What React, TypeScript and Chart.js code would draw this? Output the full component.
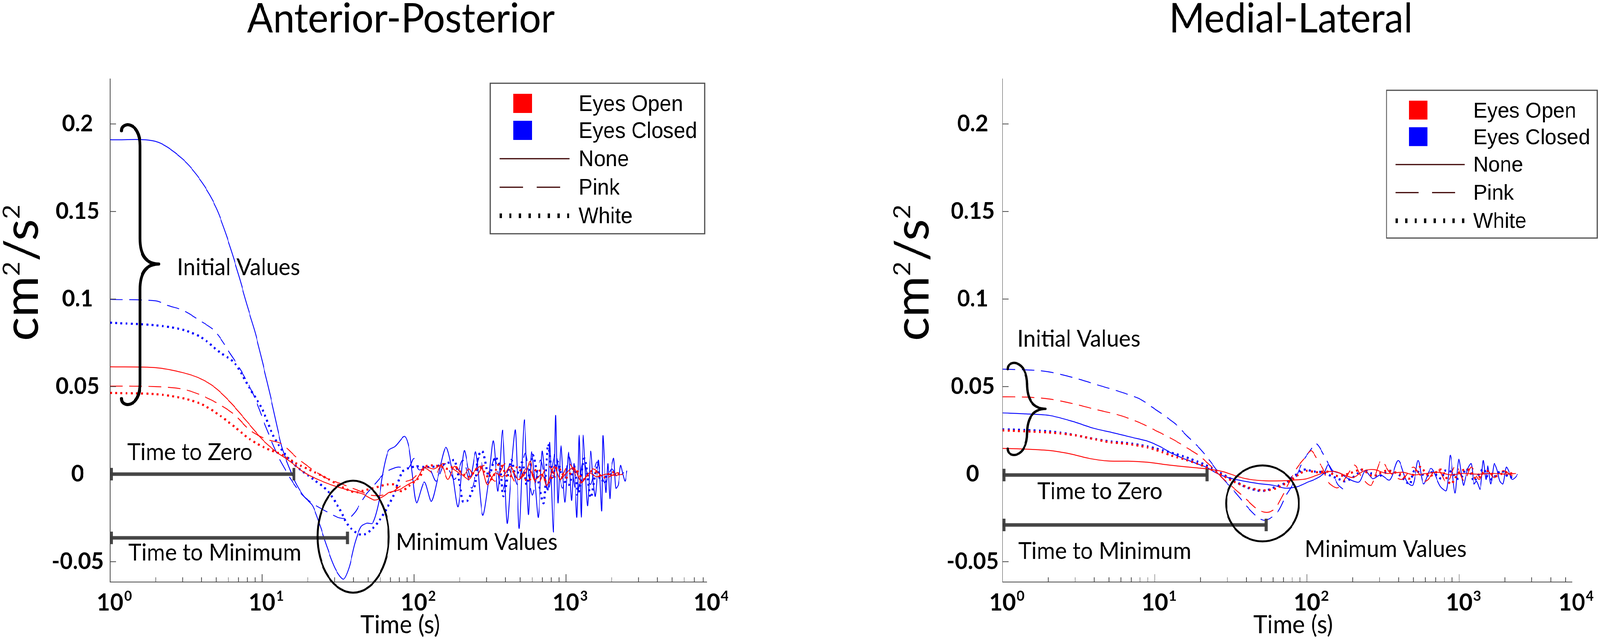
import React, { useEffect, useRef } from "react";
import Chart from "chart.js/auto";

type Pt = [number, number]; // [time (s), value (cm^2/s^2)]

// ---------- Anterior-Posterior ----------
const apEoNone: Pt[] = [
  [1, 0.0613], [2, 0.0608], [3, 0.058], [3.9, 0.0547], [4.9, 0.0495], [6.2, 0.041], [7.9, 0.0304],
  [10, 0.02], [12.3, 0.013], [15, 0.0078], [19, 0.0009], [24, -0.0035], [30.6, -0.007], [38.6, -0.0095],
  [46, -0.0113], [55, -0.0148], [62, -0.013], [68.7, -0.0104], [79.6, -0.009], [90.8, -0.006], [104, -0.003],
  [117, 0.004], [135, 0.003], [152, 0.005], [167, -0.003], [185, 0.0045], [206, 0], [230, -0.003], [252, 0.002],
  [277, 0.0045], [304, -0.006], [342, 0.0007], [383, -0.0015], [431, 0.0045], [483, -0.003], [543, 0.0007],
  [582, 0.0074], [624, -0.003], [697, 0], [748, -0.0067], [836, 0.0045], [917, -0.003], [1005, 0.0007],
  [1129, 0.0037], [1267, -0.0045], [1422, 0.0007], [1595, -0.0015], [1834, 0], [2112, -0.0007], [2370, 0],
];
const apEoPink: Pt[] = [
  [1, 0.0503], [2, 0.05], [3, 0.0486], [4, 0.045], [5.2, 0.04], [6.6, 0.0339], [8.3, 0.0252], [10.6, 0.02],
  [13.4, 0.0174], [16.9, 0.0095], [21.5, 0.0026], [27, -0.0026], [34.4, -0.006], [43.5, -0.0095], [52, -0.012],
  [62, -0.012], [74, -0.0095], [88, -0.0043], [97, -0.003], [108, 0.001], [117, 0.0037], [138, 0], [154, 0.006],
  [176, 0.0037], [195, 0.001], [210, -0.0015], [230, 0.003], [252, -0.002], [290, 0.005], [340, -0.004],
  [400, 0.006], [470, -0.005], [560, 0.004], [650, -0.006], [760, 0.005], [900, -0.004], [1050, 0.006],
  [1250, -0.005], [1500, 0.003], [1800, -0.002], [2200, 0.001],
];
const apEoWhite: Pt[] = [
  [1, 0.0464], [2, 0.0457], [3, 0.0434], [4, 0.04], [5.2, 0.0339], [6.6, 0.027], [8.3, 0.02], [10.6, 0.0148],
  [13.4, 0.0113], [16.9, 0.006], [21.5, 0.0017], [27, -0.0026], [34.4, -0.0078], [41, -0.0104], [46, -0.0095],
  [55, -0.0078], [65.8, -0.006], [74, -0.006], [82, -0.0097], [95, -0.006], [109, -0.0015], [120, 0.0045],
  [149, 0.0045], [167, 0.003], [185, 0.0045], [206, 0.0007], [230, -0.0015], [270, 0.004], [320, -0.003],
  [366, 0.006], [420, -0.002], [480, 0.004], [560, -0.004], [650, 0.003], [760, -0.005], [880, 0.004],
  [1000, -0.002], [1150, 0.003], [1300, -0.003], [1500, 0.002], [1750, -0.002], [2000, 0.001], [2300, 0],
];
const apEcNone: Pt[] = [
  [1, 0.191], [2, 0.19], [3, 0.18], [4, 0.167], [5, 0.152], [6, 0.133], [7, 0.114], [8, 0.096], [9, 0.081],
  [10, 0.065], [11.6, 0.041], [13.4, 0.0165], [15, 0.0043], [16.9, -0.006], [19, -0.013], [21.5, -0.018],
  [24, -0.029], [27, -0.0425], [30.6, -0.0547], [34.4, -0.06], [37.5, -0.053], [41, -0.039], [44.8, -0.03],
  [49, -0.028], [53.5, -0.028], [58.5, -0.0165], [62, -0.001], [67.8, 0.0134], [75.6, 0.016], [86.7, 0.0216],
  [92.7, 0.015], [97, 0.0015], [104, -0.0164], [117, -0.0045], [130, -0.0156], [144, -0.0015], [162, 0.0153],
  [178, 0.002], [195, -0.0186], [214, 0.0134], [235, -0.0015], [255, 0.0126], [283, -0.0234], [311, -0.002],
  [333, 0.019], [357, -0.0097], [383, 0.025], [410, -0.028], [438, 0.004], [465, 0.025], [493, -0.031],
  [532, 0.031], [566, -0.023], [593, 0.0126], [625, -0.004], [658, -0.0246], [697, 0.013], [730, -0.002],
  [764, -0.009], [782, 0.018], [827, -0.033], [856, 0.0335], [886, -0.0164], [928, 0.0164], [983, -0.016],
  [1040, 0.0126], [1089, -0.015], [1130, 0.006], [1181, -0.0246], [1222, 0.0223], [1260, -0.0246],
  [1296, 0.022], [1340, 0.002], [1389, -0.018], [1455, 0.013], [1510, -0.004], [1559, -0.0126], [1640, 0.008],
  [1718, -0.021], [1750, 0.022], [1834, -0.0104], [1890, 0.006], [1945, -0.014], [2000, 0.004], [2062, 0.009],
  [2130, -0.008], [2210, -0.006], [2290, 0.005], [2370, 0], [2450, -0.004], [2520, 0.002],
];
const apEcPink: Pt[] = [
  [1, 0.0998], [2, 0.099], [2.4, 0.0963], [3, 0.0937], [3.77, 0.0885], [4.9, 0.0816], [6.2, 0.0686],
  [7.4, 0.058], [8.9, 0.0443], [10.6, 0.027], [12.6, 0.0113], [15, -0.001], [16.9, -0.0078], [19, -0.013],
  [22.7, -0.018], [27, -0.0217], [32.4, -0.025], [37.5, -0.025], [41, -0.0217], [43.5, -0.018], [48, -0.012],
  [55, -0.006], [65, 0.001], [78, 0.004], [92, 0.0035], [100, 0.009], [108, 0.0025], [125, 0.004],
  [140, -0.004], [160, 0.006], [185, -0.003], [210, 0.008], [240, -0.008], [270, 0.01], [300, -0.005],
  [340, 0.009], [380, -0.01], [430, 0.006], [480, -0.006], [540, 0.012], [600, -0.012], [680, 0.008],
  [760, -0.01], [850, 0.012], [950, -0.008], [1050, 0.01], [1180, -0.012], [1300, 0.008], [1450, -0.006],
  [1600, 0.007], [1800, -0.005], [2000, 0.003], [2200, -0.002], [2400, 0.001],
];
const apEcWhite: Pt[] = [
  [1, 0.0865], [2, 0.085], [3, 0.0825], [4, 0.078], [5.2, 0.07], [6.6, 0.0634], [8.3, 0.049], [10, 0.0373],
  [11.9, 0.0217], [14.2, 0.0113], [16.9, 0.0043], [21.5, -0.0026], [27, -0.0095], [32.4, -0.02],
  [36.5, -0.0286], [41, -0.033], [46, -0.0347], [52, -0.032], [58.5, -0.027], [65.8, -0.02], [74, -0.0113],
  [83, 0.0009], [89, 0.003], [95, 0.0037], [103, 0.0045], [120, 0.004], [140, 0.0045], [171, 0.0067],
  [185, 0.008], [203, -0.009], [210, -0.0156], [226, -0.015], [243, -0.009], [253, -0.006], [265, 0.0104],
  [283, 0.013], [311, -0.0015], [342, 0.0097], [366, 0.005], [388, -0.0126], [437, 0.008], [470, -0.0015],
  [514, 0.0067], [553, -0.006], [605, 0.011], [664, -0.006], [713, -0.0164], [764, 0.017], [817, -0.0015],
  [876, 0.0074], [960, -0.003], [1052, -0.006], [1130, 0.005], [1209, -0.0104], [1326, 0.009],
  [1455, -0.0134], [1595, 0.0037], [1700, -0.004], [1834, -0.0015], [2062, 0.0007],
];

// ---------- Medial-Lateral ----------
const mlEoNone: Pt[] = [
  [1, 0.0147], [1.43, 0.0143], [2.04, 0.0135], [2.75, 0.0117], [3.7, 0.009], [4.98, 0.0075], [6.7, 0.0074],
  [9, 0.0068], [12.2, 0.0053], [16.3, 0.0041], [22, 0.003], [27.9, 0.0015], [35.5, -0.0015], [42.2, -0.003],
  [53.6, -0.0038], [68, -0.0038], [81.3, -0.0034], [99.8, -0.0026], [132, 0.0011], [153, 0.0015],
  [175, -0.0004], [201, -0.0019], [237, 0.0019], [277, 0.0026], [334, 0.0004], [424, 0.0011], [507, -0.0004],
  [608, 0.0004], [729, 0.0011], [880, -0.0004], [1053, 0.0004], [1327, 0], [1670, 0.0004], [2100, 0],
  [2356, 0.0004],
];
const mlEoPink: Pt[] = [
  [1, 0.0442], [1.43, 0.044], [2.04, 0.0429], [2.92, 0.0402], [4.17, 0.0368], [5.95, 0.0335], [8, 0.0293],
  [10.2, 0.0248], [12.9, 0.0203], [16.3, 0.015], [19.6, 0.0105], [23.4, 0.0045], [27.9, -0.0023],
  [33.4, -0.0083], [39.9, -0.0143], [47.6, -0.0203], [55.2, -0.0218], [62, -0.0195], [68, -0.0135],
  [76.6, -0.0045], [86.3, 0.0038], [97.6, 0.0097], [106, 0.0134], [110, 0.0123], [118, 0.0078], [127, 0.0033],
  [138, -0.0045], [159, -0.0078], [180, -0.002], [205, 0.0052], [230, -0.002], [264, -0.0063], [307, 0.0078],
  [350, 0.001], [420, -0.003], [500, 0.004], [600, -0.004], [720, 0.003], [830, -0.005], [950, 0.005],
  [1080, -0.004], [1200, 0.004], [1350, -0.003], [1500, 0.003], [1700, -0.002], [1950, 0.002],
  [2250, -0.001], [2420, 0],
];
const mlEoWhite: Pt[] = [
  [1, 0.025], [2, 0.0238], [3, 0.0222], [4, 0.02], [5, 0.0183], [6.7, 0.0172], [9, 0.0152], [11, 0.0128],
  [13, 0.0105], [16, 0.0082], [20, 0.0053], [24, 0.0022], [28, -0.0008], [33, -0.0042], [40, -0.0072],
  [48, -0.009], [55, -0.0092], [62, -0.0082], [70, -0.006], [80, -0.003], [90, 0.0004], [100, 0.0019],
  [115, 0.0011], [135, 0.0015], [160, -0.0011], [190, 0.0004], [230, 0.0026], [270, -0.0011], [330, 0.0019],
  [400, 0.0004], [470, -0.0026], [550, 0.0041], [640, -0.0011], [760, 0.0026], [880, -0.0056], [1000, 0.0011],
  [1150, 0.0026], [1300, -0.0026], [1500, 0.0019], [1750, -0.0011], [2000, 0.0011], [2300, 0],
];
const mlEcNone: Pt[] = [
  [1, 0.035], [1.43, 0.0344], [2.04, 0.0335], [2.92, 0.03], [3.93, 0.0263], [5.29, 0.0237], [7.1, 0.021],
  [9, 0.0188], [10.8, 0.0158], [12.9, 0.012], [15.4, 0.009], [18.4, 0.0064], [22, 0.0038], [26.3, 0],
  [31.4, -0.0023], [37.6, -0.0038], [47.6, -0.0053], [60.4, -0.0064], [72, -0.008], [86.8, -0.0071],
  [99.8, -0.0048], [114.8, -0.0026], [129, 0.0004], [138, 0.0056], [148, 0.0019], [166, 0.0004],
  [187, -0.0026], [220, -0.0045], [241, 0.0019], [271, -0.0026], [304, -0.0004], [350, -0.0033],
  [398, 0.0078], [452, -0.0041], [496, -0.0063], [538, 0.0078], [584, -0.0056], [655, 0.0033],
  [753, -0.0071], [826, -0.0093], [875, 0.0108], [938, -0.0108], [994, 0.0086], [1066, -0.0063],
  [1100, -0.002], [1142, 0.0033], [1200, 0.006], [1253, -0.0056], [1300, -0.004], [1374, -0.0086],
  [1440, 0.0078], [1500, -0.003], [1543, 0.0048], [1616, -0.0056], [1700, 0.006], [1772, 0.0026],
  [1850, -0.004], [1943, -0.0056], [2040, 0.004], [2130, 0.0011], [2230, -0.003], [2336, -0.0019], [2420, 0],
];
const mlEcPink: Pt[] = [
  [1, 0.06], [1.71, 0.0592], [2.17, 0.0579], [3.1, 0.0545], [4.42, 0.0504], [5.95, 0.047], [8, 0.0429],
  [9.6, 0.0383], [11.4, 0.0338], [13.7, 0.0286], [16.3, 0.0218], [19.6, 0.015], [23.4, 0.0068],
  [27.9, -0.0023], [33.4, -0.0098], [39.9, -0.018], [47.6, -0.0248], [53.6, -0.0263], [64, -0.0218],
  [72.2, -0.0128], [81.3, -0.0053], [94.3, 0.0075], [105, 0.0135], [114.8, 0.0175], [129, 0.011],
  [145, 0.002], [160, -0.006], [175, -0.009], [187, -0.011],
];
const mlEcWhite: Pt[] = [
  [1, 0.0256], [1.43, 0.0252], [2.04, 0.0244], [2.75, 0.0229], [3.7, 0.0207], [4.98, 0.0188], [6.7, 0.0177],
  [9, 0.0158], [12.2, 0.0128], [15.4, 0.0102], [19.6, 0.0068], [23.4, 0.0038], [27.9, 0], [33.4, -0.0038],
  [39.9, -0.0075], [47.6, -0.0094], [53.6, -0.0094], [64, -0.0068], [74.4, -0.0045], [81, -0.0011],
  [86.3, 0], [93.7, 0.0026], [112, 0.0015], [126, 0.0011], [145, -0.0011], [167, -0.0033], [179, -0.0041],
  [206, -0.0011], [231, 0.0026], [265, 0.0004], [298, -0.0011], [350, 0.0019], [403, -0.0004],
  [473, -0.0056], [507, 0.0019], [608, -0.0011], [667, 0.0011], [765, -0.0026], [802, 0.0019], [900, 0.0011],
  [964, -0.0026], [1053, -0.0011], [1100, 0.003], [1181, 0.0011], [1250, -0.004], [1357, 0.0004],
  [1450, 0.003], [1522, -0.0011], [1650, -0.003], [1747, -0.0004], [1900, 0.002], [2007, 0],
  [2150, -0.002], [2302, -0.0004],
];

const yTickValues = [-0.05, 0, 0.05, 0.1, 0.15, 0.2];
const yTickLabels = ["-0.05", "0", "0.05", "0.1", "0.15", "0.2"];
const xDecades = [0, 1, 2, 3, 4];
const legendConditions = ["Eyes Open", "Eyes Closed"];
const legendNoises = ["None", "Pink", "White"];

const PAGE_W = 4317;
const PAGE_H = 1645;
const AREA_TOP = 202;
const AREA_BOTTOM = 1489;
const Y_MIN = -0.0616;
const Y_MAX = 0.2257;
const FONT = "Lato, 'Open Sans', sans-serif";
const SANS = "'Liberation Sans', Arial, sans-serif";
const RED = "#ff0000";
const BLUE = "#0000ff";
const AXIS = "#4a4a4a";

interface Note { text: string; t: number; v: number }
interface PanelSpec {
  title: string;
  left: number;
  width: number;
  areaLeft: number;
  areaRight: number;
  xMax: number;
  titleX: number;
  yTitleX: number;
  xTitleX: number;
  tickPad: number;
  legend: { x: number; y: number; w: number; h: number };
  brace: { t0: number; t1: number; t2: number; top: number; mid: number; bottom: number; lw: number };
  bars: { t: number; v: number }[];
  ring: { t: number; v: number; rx: number; ry: number };
  notes: Note[];
  series: { eo: Pt[][]; ec: Pt[][] };
}

const apSpec: PanelSpec = {
  title: "Anterior-Posterior",
  left: 0,
  width: 2160,
  areaLeft: 297,
  areaRight: 1907,
  xMax: 8450,
  titleX: 1082,
  yTitleX: 102,
  xTitleX: 1080,
  tickPad: 17,
  legend: { x: 1323, y: 213, w: 578, h: 385 },
  brace: { t0: 1.19, t1: 1.575, t2: 2.09, top: 0.1998, mid: 0.12, bottom: 0.0395, lw: 8 },
  bars: [{ t: 16.2, v: 0 }, { t: 36.5, v: -0.0364 }],
  ring: { t: 39.8, v: -0.0357, rx: 0.234, ry: 0.032 },
  notes: [
    { text: "Initial Values", t: 2.76, v: 0.118 },
    { text: "Time to Zero", t: 1.3, v: 0.0123 },
    { text: "Time to Minimum", t: 1.32, v: -0.0451 },
    { text: "Minimum Values", t: 76, v: -0.0389 },
  ],
  series: { eo: [apEoNone, apEoPink, apEoWhite], ec: [apEcNone, apEcPink, apEcWhite] },
};

const mlSpec: PanelSpec = {
  title: "Medial-Lateral",
  left: 2160,
  width: 2157,
  areaLeft: 545,
  areaRight: 2081,
  xMax: 5500,
  titleX: 1323,
  yTitleX: 345,
  xTitleX: 1329,
  tickPad: 10,
  legend: { x: 1581, y: 231, w: 569, h: 378 },
  brace: { t0: 1.08, t1: 1.45, t2: 1.92, top: 0.0638, mid: 0.0373, bottom: 0.0107, lw: 6 },
  bars: [{ t: 22.1, v: -0.0005 }, { t: 54, v: -0.029 }],
  ring: { t: 51, v: -0.0167, rx: 0.239, ry: 0.0217 },
  notes: [
    { text: "Initial Values", t: 1.25, v: 0.077 },
    { text: "Time to Zero", t: 1.69, v: -0.01 },
    { text: "Time to Minimum", t: 1.27, v: -0.0442 },
    { text: "Minimum Values", t: 96.7, v: -0.0431 },
  ],
  series: { eo: [mlEoNone, mlEoPink, mlEoWhite], ec: [mlEcNone, mlEcPink, mlEcWhite] },
};

const styleOf = (i: number) =>
  i === 0
    ? { borderWidth: 2.2, borderDash: [] as number[] }
    : i === 1
    ? { borderWidth: 2.2, borderDash: [34, 18] }
    : { borderWidth: 5.5, borderDash: [5, 9] };

const makeDatasets = (spec: PanelSpec) => {
  const build = (pts: Pt[], color: string, i: number) => ({
    data: pts.map(([t, v]) => ({ x: t, y: v })),
    borderColor: color,
    ...styleOf(i),
    borderCapStyle: "butt" as const,
    pointRadius: 0,
    tension: 0.3,
    fill: false,
  });
  // earlier datasets are painted on top: red over blue
  return [
    ...spec.series.eo.map((p, i) => build(p, RED, i)),
    ...spec.series.ec.map((p, i) => build(p, BLUE, i)),
  ];
};

type Part = [string, boolean];
function drawRich(ctx: CanvasRenderingContext2D, parts: Part[], x: number, y: number, size: number, weight: string, center: boolean) {
  const sup = size * 0.5;
  const widths = parts.map(([s, isSup]) => {
    ctx.font = `${weight} ${isSup ? sup : size}px ${FONT}`;
    return ctx.measureText(s).width;
  });
  const total = widths.reduce((a, b) => a + b, 0);
  let cx = center ? x - total / 2 : x;
  ctx.textAlign = "left";
  ctx.textBaseline = "alphabetic";
  parts.forEach(([s, isSup], i) => {
    ctx.font = `${weight} ${isSup ? sup : size}px ${FONT}`;
    ctx.fillText(s, cx, isSup ? y - size * 0.38 : y);
    cx += widths[i];
  });
}

const makeDecor = (spec: PanelSpec) => ({
  id: "decor",
  afterDraw(chart: Chart) {
    const { ctx, chartArea } = chart;
    const xs = chart.scales.x;
    const ys = chart.scales.y;
    const px = (t: number) => xs.getPixelForValue(t);
    const py = (v: number) => ys.getPixelForValue(v);
    ctx.save();

    // inward tick marks
    ctx.strokeStyle = AXIS;
    ctx.lineWidth = 2;
    ctx.setLineDash([]);
    for (const d of xDecades) {
      for (let m = 1; m <= 9; m++) {
        const v = m * 10 ** d;
        if (v > xs.max) break;
        const x = px(v);
        ctx.beginPath();
        ctx.moveTo(x, chartArea.bottom);
        ctx.lineTo(x, chartArea.bottom - (m === 1 ? 20 : 12));
        ctx.stroke();
      }
    }
    for (const v of yTickValues) {
      ctx.beginPath();
      ctx.moveTo(chartArea.left, py(v));
      ctx.lineTo(chartArea.left + 16, py(v));
      ctx.stroke();
    }

    // x tick labels 10^n
    ctx.fillStyle = "#000";
    for (const d of xDecades) {
      const v = 10 ** d;
      const x = v <= xs.max ? px(v) : chartArea.right;
      ctx.font = `bold 62px ${FONT}`;
      const w = ctx.measureText("10").width;
      ctx.textAlign = "left";
      ctx.textBaseline = "alphabetic";
      ctx.fillText("10", x - w / 2, 1562);
      ctx.font = `bold 36px ${FONT}`;
      ctx.fillText(String(d), x + w / 2 + 2, 1537);
    }

    // titles
    ctx.textAlign = "center";
    ctx.textBaseline = "alphabetic";
    ctx.font = `104px ${FONT}`;
    ctx.fillText(spec.title, spec.titleX, 83);
    ctx.font = `64px ${FONT}`;
    ctx.fillText("Time (s)", spec.xTitleX, 1620);
    ctx.save();
    ctx.translate(spec.yTitleX, 698);
    ctx.rotate(-Math.PI / 2);
    drawRich(ctx, [["cm", false], ["2", true], ["/s", false], ["2", true]], 0, 0, 128, "normal", true);
    ctx.restore();

    // legend
    const L = spec.legend;
    const k = L.w / 578;
    ctx.fillStyle = "#fff";
    ctx.fillRect(L.x, L.y, L.w, L.h);
    ctx.strokeStyle = "#4d4d4d";
    ctx.lineWidth = 3;
    ctx.strokeRect(L.x, L.y, L.w, L.h);
    const rows = [52, 121, 193, 266, 339].map((r) => L.y + r * k);
    [RED, BLUE].forEach((c, i) => {
      ctx.fillStyle = c;
      ctx.fillRect(L.x + 62 * k, rows[i] - 25 * k, 50 * k, 49 * k);
    });
    ctx.fillStyle = "#000";
    ctx.font = `${57 * k}px ${SANS}`;
    ctx.textAlign = "left";
    ctx.textBaseline = "middle";
    [...legendConditions, ...legendNoises].forEach((s, i) => ctx.fillText(s, L.x + 238 * k, rows[i] + 3));
    const lx0 = L.x + 25 * k;
    const lx1 = L.x + 214 * k;
    ctx.strokeStyle = "#3b0000";
    ctx.lineWidth = 3;
    ctx.beginPath();
    ctx.moveTo(lx0, rows[2]);
    ctx.lineTo(lx1, rows[2]);
    ctx.stroke();
    ctx.setLineDash([63 * k, 37 * k]);
    ctx.beginPath();
    ctx.moveTo(lx0, rows[3]);
    ctx.lineTo(L.x + 190 * k, rows[3]);
    ctx.stroke();
    ctx.strokeStyle = "#000";
    ctx.lineWidth = 12 * k;
    ctx.setLineDash([6 * k, 20 * k]);
    ctx.beginPath();
    ctx.moveTo(lx0, rows[4]);
    ctx.lineTo(lx1, rows[4]);
    ctx.stroke();
    ctx.setLineDash([]);

    // brace around the initial values
    const b = spec.brace;
    const x0 = px(b.t0), x1 = px(b.t1), x2 = px(b.t2);
    const yT = py(b.top), yM = py(b.mid), yB = py(b.bottom);
    const r = (x1 - x0) * 1.1;
    const r2 = (x2 - x1) * 1.3;
    ctx.strokeStyle = "#000";
    ctx.lineWidth = b.lw;
    ctx.lineCap = "round";
    ctx.lineJoin = "round";
    ctx.beginPath();
    ctx.moveTo(x0, yT + r * 0.3);
    ctx.bezierCurveTo(x0, yT - r * 0.15, x1, yT - r * 0.15, x1, yT + r);
    ctx.lineTo(x1, yM - r2);
    ctx.quadraticCurveTo(x1, yM, x2, yM);
    ctx.quadraticCurveTo(x1, yM, x1, yM + r2);
    ctx.lineTo(x1, yB - r);
    ctx.bezierCurveTo(x1, yB + r * 0.15, x0, yB + r * 0.15, x0, yB - r * 0.3);
    ctx.stroke();

    // time bars
    ctx.lineCap = "butt";
    ctx.strokeStyle = "rgba(60,60,60,0.95)";
    ctx.fillStyle = "rgba(60,60,60,0.95)";
    ctx.lineWidth = 9;
    for (const bar of spec.bars) {
      const yb = py(bar.v);
      const xe = px(bar.t);
      ctx.beginPath();
      ctx.moveTo(chartArea.left, yb);
      ctx.lineTo(xe, yb);
      ctx.stroke();
      ctx.fillRect(chartArea.left, yb - 16, 8, 32);
      ctx.fillRect(xe - 4, yb - 16, 8, 32);
    }

    // ring around the minima
    const g = spec.ring;
    const cx = px(g.t);
    const cy = py(g.v);
    ctx.strokeStyle = "#000";
    ctx.lineWidth = 5;
    ctx.beginPath();
    ctx.ellipse(cx, cy, px(g.t * 10 ** g.rx) - cx, py(g.v - g.ry) - cy, 0, 0, Math.PI * 2);
    ctx.stroke();

    // notes
    ctx.fillStyle = "#000";
    ctx.font = `60px ${FONT}`;
    ctx.textAlign = "left";
    ctx.textBaseline = "middle";
    for (const n of spec.notes) ctx.fillText(n.text, px(n.t), py(n.v));

    ctx.restore();
  },
});

const Panel: React.FC<{ spec: PanelSpec }> = ({ spec }) => {
  const canvasRef = useRef<HTMLCanvasElement | null>(null);

  useEffect(() => {
    if (!canvasRef.current) return;
    const yWidth = Math.min(spec.areaLeft, 290);
    const chart = new Chart(canvasRef.current, {
      type: "line",
      data: { datasets: makeDatasets(spec) as any },
      options: {
        animation: false,
        responsive: false,
        devicePixelRatio: 1,
        events: [],
        layout: {
          padding: { left: spec.areaLeft - yWidth, top: AREA_TOP, right: spec.width - spec.areaRight, bottom: 0 },
        },
        plugins: { legend: { display: false }, tooltip: { enabled: false }, title: { display: false } },
        scales: {
          x: {
            type: "logarithmic",
            min: 1,
            max: spec.xMax,
            ticks: { display: false },
            grid: { drawOnChartArea: false, drawTicks: false },
            border: { display: true, color: AXIS, width: 2 },
            afterFit: (s: any) => {
              s.height = PAGE_H - AREA_BOTTOM;
            },
          },
          y: {
            type: "linear",
            min: Y_MIN,
            max: Y_MAX,
            afterBuildTicks: (s: any) => {
              s.ticks = yTickValues.map((v) => ({ value: v }));
            },
            afterFit: (s: any) => {
              s.width = yWidth;
            },
            ticks: {
              callback: (_v: any, i: number) => yTickLabels[i],
              font: { family: FONT, size: 60, weight: "bold" },
              color: "#000",
              crossAlign: "center",
              padding: spec.tickPad,
              autoSkip: false,
            },
            grid: { drawOnChartArea: false, drawTicks: false },
            border: { display: true, color: AXIS, width: 2 },
          },
        },
      },
      plugins: [makeDecor(spec)],
    });
    return () => chart.destroy();
  }, [spec]);

  return (
    <canvas
      ref={canvasRef}
      width={spec.width}
      height={PAGE_H}
      style={{ position: "absolute", left: spec.left, top: 0, width: spec.width, height: PAGE_H }}
    />
  );
};

export default function App() {
  // the viewport can be narrower than the figure; squeeze it to fit
  const sx = Math.min(1, window.innerWidth / PAGE_W);
  const sy = Math.min(1, window.innerHeight / PAGE_H);
  return (
    <div
      style={{
        position: "absolute",
        left: 0,
        top: 0,
        width: PAGE_W,
        height: PAGE_H,
        background: "#fff",
        overflow: "hidden",
        transform: `scale(${sx}, ${sy})`,
        transformOrigin: "0 0",
      }}
    >
      <Panel spec={apSpec} />
      <Panel spec={mlSpec} />
    </div>
  );
}
